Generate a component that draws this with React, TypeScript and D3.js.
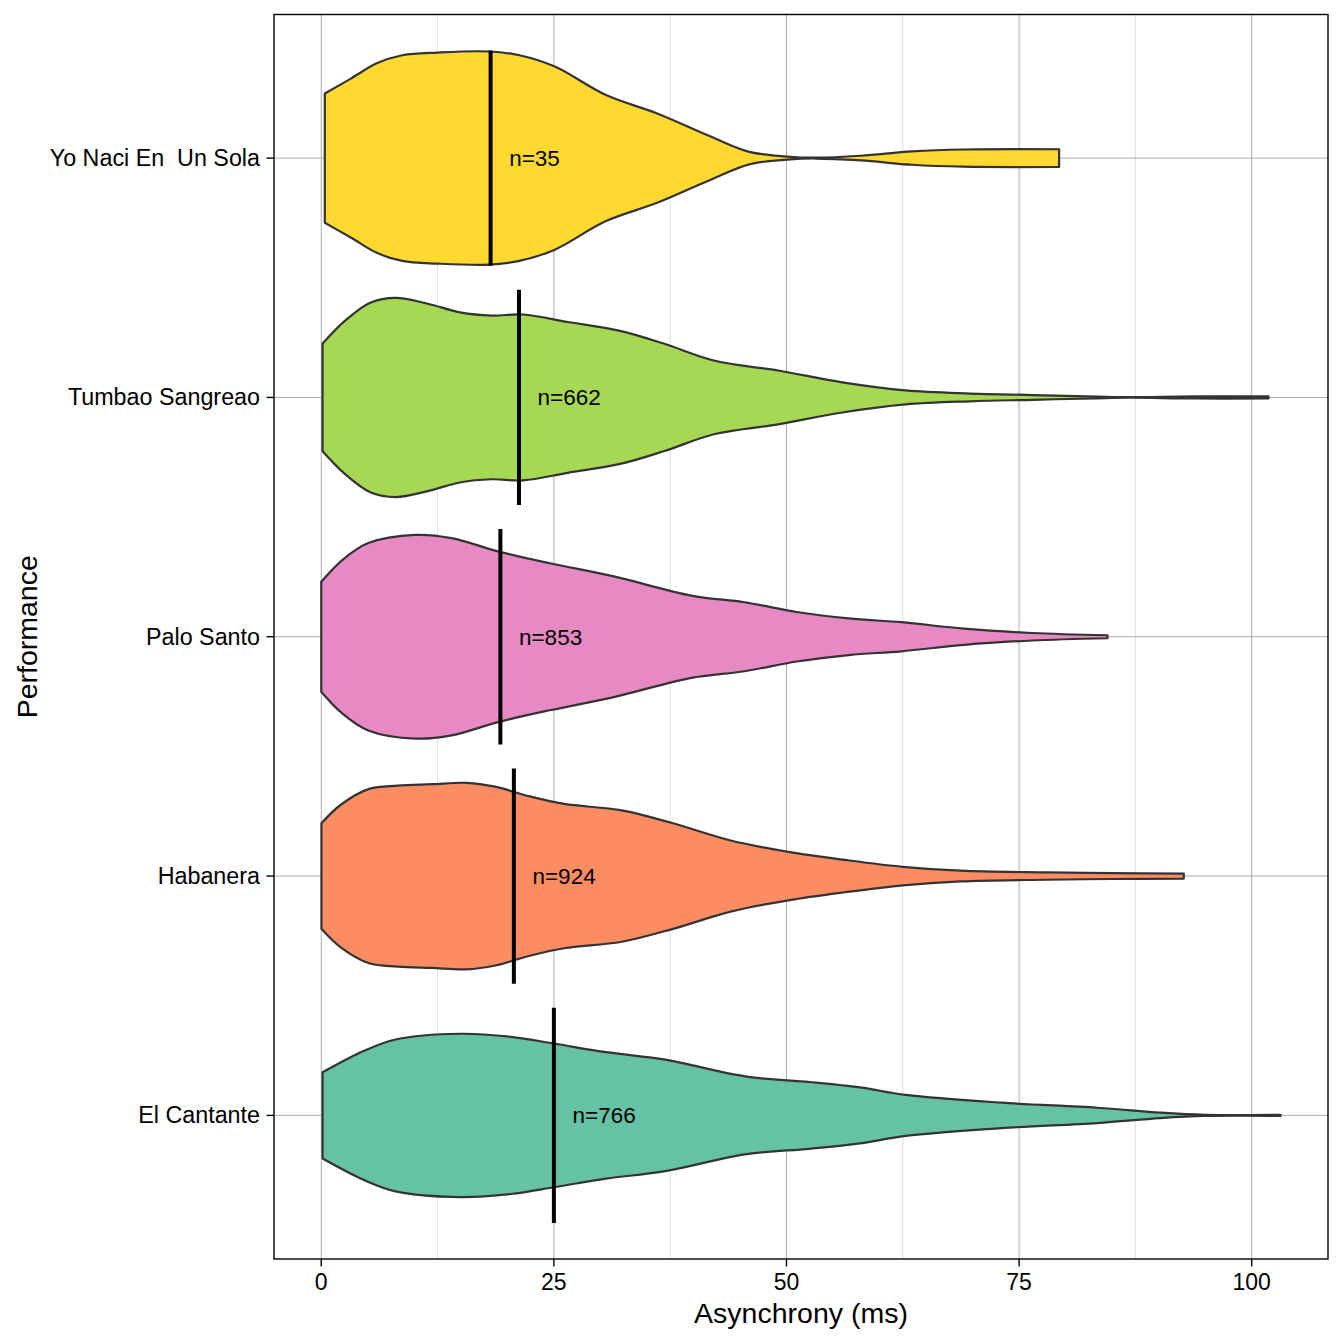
import React from "react";
import * as d3 from "d3";

// ---------- data ----------
// categories from bottom to top
const categories = ["El Cantante", "Habanera", "Palo Santo", "Tumbao Sangreao", "Yo Naci En  Un Sola"];
const fills = ["#66C2A5", "#FC8D62", "#E78AC3", "#A6D854", "#FFD92F"];
const medians = [25.0, 20.7, 19.25, 21.25, 18.2];
const counts = [766, 924, 853, 662, 35];
const xTicks = [0, 25, 50, 75, 100];
const xMinorTicks = [12.5, 37.5, 62.5, 87.5];

// violin profiles: [asynchrony (ms), relative half-width]
const elCantante: [number, number][] = [
  [0.14, 0.40], [4.6, 0.60], [8.0, 0.705], [14.9, 0.758], [20.35, 0.73], [25.15, 0.665],
  [30.6, 0.587], [36.8, 0.52], [45.7, 0.36], [52.5, 0.31], [57.9, 0.26], [62.8, 0.19],
  [73.1, 0.118], [83.4, 0.071], [90.2, 0.025], [95.0, 0.005], [103.1, 0.005],
];
const habanera: [number, number][] = [
  [0.02, 0.49], [2.06, 0.66], [5.14, 0.81], [8.23, 0.84], [11.9, 0.853], [15.6, 0.866],
  [18.7, 0.83], [22.4, 0.74], [26.1, 0.67], [32.3, 0.61], [37.8, 0.49], [44.0, 0.33],
  [50.2, 0.225], [56.3, 0.15], [62.5, 0.086], [68.7, 0.05], [77.9, 0.034], [85.0, 0.027], [92.7, 0.023],
];
const paloSanto: [number, number][] = [
  [0.0, 0.51], [2.23, 0.71], [5.05, 0.87], [10.1, 0.946], [14.0, 0.916], [19.1, 0.79],
  [24.7, 0.68], [31.45, 0.56], [39.9, 0.38], [45.5, 0.32], [51.1, 0.23], [56.7, 0.17],
  [62.35, 0.135], [69.1, 0.075], [76.4, 0.035], [84.5, 0.014],
];
const tumbao: [number, number][] = [
  [0.14, 0.50], [2.53, 0.71], [5.26, 0.88], [8.0, 0.925], [11.45, 0.87], [14.9, 0.79],
  [18.3, 0.76], [21.7, 0.77], [26.5, 0.70], [32.0, 0.62], [36.8, 0.50], [42.3, 0.34],
  [49.1, 0.25], [56.0, 0.14], [62.8, 0.065], [69.7, 0.036], [76.5, 0.022], [83.35, 0.008],
  [86.8, 0.003], [93.7, 0.01], [101.8, 0.009],
];
const yoNaci: [number, number][] = [
  [0.38, 0.60], [3.22, 0.74], [5.96, 0.88], [8.7, 0.955], [12.55, 0.98], [18.0, 0.99],
  [21.3, 0.955], [25.1, 0.85], [30.6, 0.585], [36.1, 0.415], [41.6, 0.21], [46.0, 0.058],
  [50.4, 0.012], [53.1, 0.004], [58.0, 0.022], [63.5, 0.062], [69.0, 0.08], [79.3, 0.082],
];
const profiles = [elCantante, habanera, paloSanto, tumbao, yoNaci];

// ---------- layout ----------
const W = 1344, H = 1344;
const panel = { left: 274, right: 1328, top: 14.5, bottom: 1259 };
const FONT = "'Liberation Sans', Arial, Helvetica, sans-serif";

export default function App() {
  const x = d3.scaleLinear().domain([-5.08, 108.2]).range([panel.left, panel.right]);
  const y = d3.scalePoint<string>().domain(categories).range([panel.bottom, panel.top]).padding(0.6);
  const step = y.step();
  const halfW = d3.scaleLinear().domain([0, 1]).range([0, 0.45 * step]);

  const grid = { major: "#adadad", minor: "#dedede" };

  return (
    <svg width={W} height={H} style={{ position: "absolute", left: 0, top: 0, display: "block", background: "#fff" }}>
      <rect x={0} y={0} width={W} height={H} fill="#fff" />
      {/* grid */}
      {xMinorTicks.map((t) => (
        <line key={"mn" + t} x1={x(t)} x2={x(t)} y1={panel.top} y2={panel.bottom} stroke={grid.minor} strokeWidth={1} />
      ))}
      {xTicks.map((t) => (
        <line key={"mj" + t} x1={x(t)} x2={x(t)} y1={panel.top} y2={panel.bottom} stroke={grid.major} strokeWidth={1} />
      ))}
      {categories.map((c) => (
        <line key={"hg" + c} x1={panel.left} x2={panel.right} y1={y(c)} y2={y(c)} stroke={grid.major} strokeWidth={1} />
      ))}

      {/* violins */}
      {categories.map((c, i) => {
        const cy = y(c) as number;
        const area = d3
          .area<[number, number]>()
          .x((d) => x(d[0]))
          .y0((d) => cy + halfW(d[1]))
          .y1((d) => cy - halfW(d[1]))
          .curve(d3.curveCatmullRom.alpha(0.5));
        return (
          <path key={"v" + c} d={area(profiles[i]) || ""} fill={fills[i]} stroke="#333333" strokeWidth={2.2} strokeLinejoin="round" />
        );
      })}

      {/* medians */}
      {categories.map((c, i) => {
        const cy = y(c) as number;
        return (
          <line key={"md" + c} x1={x(medians[i])} x2={x(medians[i])} y1={cy - 0.45 * step} y2={cy + 0.45 * step} stroke="#000" strokeWidth={4} />
        );
      })}

      {/* n labels */}
      {categories.map((c, i) => (
        <text key={"n" + c} x={x(medians[i] + 2)} y={(y(c) as number) + 8} fontFamily={FONT} fontSize={22.5} fill="#000">
          {"n=" + counts[i]}
        </text>
      ))}

      {/* panel border */}
      <rect x={panel.left} y={panel.top} width={panel.right - panel.left} height={panel.bottom - panel.top} fill="none" stroke="#000" strokeWidth={1.4} />

      {/* x axis */}
      {xTicks.map((t) => (
        <g key={"xt" + t}>
          <line x1={x(t)} x2={x(t)} y1={panel.bottom} y2={panel.bottom + 7.5} stroke="#000" strokeWidth={1.4} />
          <text x={x(t)} y={1290} textAnchor="middle" fontFamily={FONT} fontSize={23} fill="#000">
            {t}
          </text>
        </g>
      ))}
      <text x={(panel.left + panel.right) / 2} y={1323} textAnchor="middle" fontFamily={FONT} fontSize={28.5} fill="#000">
        Asynchrony (ms)
      </text>

      {/* y axis */}
      {categories.map((c) => (
        <g key={"yt" + c}>
          <line x1={panel.left - 7.5} x2={panel.left} y1={y(c)} y2={y(c)} stroke="#000" strokeWidth={1.4} />
          <text x={panel.left - 14} y={(y(c) as number) + 8} textAnchor="end" fontFamily={FONT} fontSize={23.3} fill="#000" style={{ whiteSpace: "pre" }}>
            {c}
          </text>
        </g>
      ))}
      <text
        transform={`translate(37, ${(panel.top + panel.bottom) / 2}) rotate(-90)`}
        textAnchor="middle"
        fontFamily={FONT}
        fontSize={28.5}
        fill="#000"
      >
        Performance
      </text>
    </svg>
  );
}
